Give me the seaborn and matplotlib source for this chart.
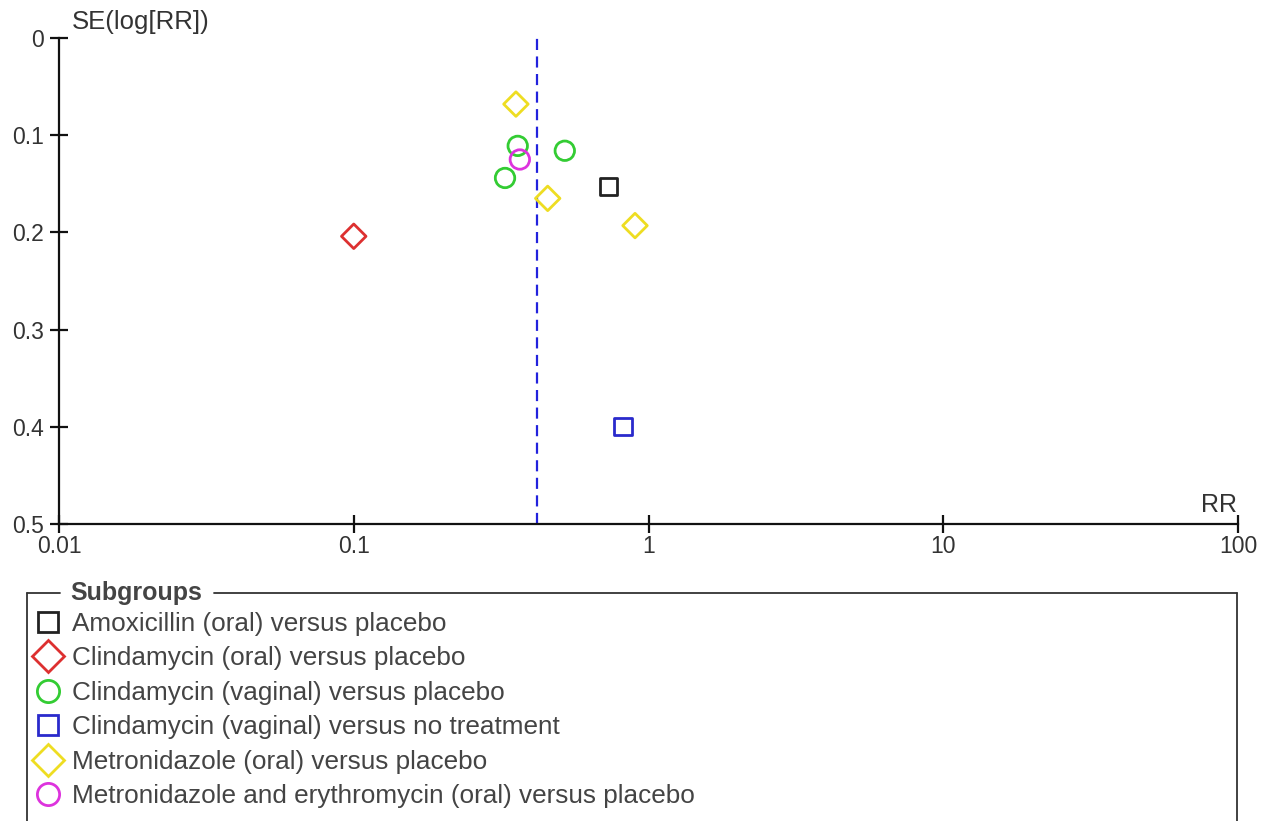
import matplotlib
matplotlib.use("Agg")
import matplotlib.pyplot as plt
from matplotlib.lines import Line2D
import seaborn as sns
import pandas as pd

# ---- data ----
groups = [
    "Amoxicillin (oral) versus placebo",
    "Clindamycin (oral) versus placebo",
    "Clindamycin (vaginal) versus placebo",
    "Clindamycin (vaginal) versus no treatment",
    "Metronidazole (oral) versus placebo",
    "Metronidazole and erythromycin (oral) versus placebo",
]
rr_amox = [0.73]
se_amox = [0.153]
rr_clin_oral = [0.10]
se_clin_oral = [0.204]
rr_clin_vag = [0.36, 0.52, 0.326]
se_clin_vag = [0.111, 0.116, 0.144]
rr_clin_vag_nt = [0.82]
se_clin_vag_nt = [0.400]
rr_metro = [0.355, 0.455, 0.90]
se_metro = [0.068, 0.165, 0.193]
rr_metro_ery = [0.366]
se_metro_ery = [0.125]
pooled_rr = 0.42

x_ticks = [0.01, 0.1, 1, 10, 100]
x_ticklabels = ["0.01", "0.1", "1", "10", "100"]
y_ticks = [0, 0.1, 0.2, 0.3, 0.4, 0.5]
y_ticklabels = ["0", "0.1", "0.2", "0.3", "0.4", "0.5"]

rr_all = [rr_amox, rr_clin_oral, rr_clin_vag, rr_clin_vag_nt, rr_metro, rr_metro_ery]
se_all = [se_amox, se_clin_oral, se_clin_vag, se_clin_vag_nt, se_metro, se_metro_ery]

colors = ["#222222", "#dd3030", "#33cc33", "#2a2acc", "#eedd22", "#dd33dd"]
markers = ["s", "D", "o", "s", "D", "o"]
msizes = [12.5, 12.5, 14, 12.5, 12.5, 14]
leg_msizes = [14.5, 16.5, 16, 14.5, 16.5, 16]

rows = []
for g, rs, ss in zip(groups, rr_all, se_all):
    for r, s in zip(rs, ss):
        rows.append({"group": g, "RR": r, "SE": s})
df = pd.DataFrame(rows)

sns.set_style("white")
plt.rcParams["font.family"] = ["Liberation Sans", "DejaVu Sans"]

fig = plt.figure(figsize=(12.71, 8.21), dpi=100)
W, H = 1271, 821
ax = fig.add_axes([59 / W, 1 - 524 / H, (1238 - 59) / W, (524 - 38) / H])

for g, c, m, ms in zip(groups, colors, markers, msizes):
    sub = df[df["group"] == g]
    sns.scatterplot(data=sub, x="RR", y="SE", ax=ax, marker=m, s=ms ** 2,
                    color=c, facecolor="none", edgecolor=c, linewidth=2,
                    legend=False, zorder=3)

ax.axvline(pooled_rr, color="#2222dd", linestyle=(0, (5, 2.9)), linewidth=1.6, zorder=2)

ax.set_xscale("log")
ax.set_xlim(0.01, 100)
ax.set_ylim(0.5, 0)
ax.set_xticks(x_ticks)
ax.set_xticklabels(x_ticklabels)
ax.set_yticks(y_ticks)
ax.set_yticklabels(y_ticklabels)
ax.minorticks_off()
ax.set_xlabel("")
ax.set_ylabel("")

for side in ["top", "right"]:
    ax.spines[side].set_visible(False)
for side in ["left", "bottom"]:
    ax.spines[side].set_linewidth(1.6)
    ax.spines[side].set_color("#111111")

ax.tick_params(axis="both", which="major", bottom=True, left=True, direction="inout",
               length=13, width=1.6, color="#111111", labelsize=16.5, labelcolor="#333333")
ax.tick_params(axis="x", pad=1.5)
ax.tick_params(axis="y", pad=4.5)

fig.text(72 / W, 1 - 22 / H, "SE(log[RR])", ha="left", va="center", fontsize=18.5, color="#333333")
fig.text(1237 / W, 1 - 505 / H, "RR", ha="right", va="center", fontsize=18, color="#333333")

# ---- legend ----
handles = [Line2D([], [], linestyle="none", marker=m, markersize=ms,
                  markerfacecolor="none", markeredgecolor=c, markeredgewidth=2)
           for c, m, ms in zip(colors, markers, leg_msizes)]
leg = fig.legend(handles, groups, loc="upper left",
                 bbox_to_anchor=(35 / W, 1 - 612 / H), frameon=False,
                 fontsize=18.8, handlelength=1.0, handletextpad=0.42,
                 labelspacing=0.40, borderaxespad=0, borderpad=0)
for t in leg.get_texts():
    t.set_color("#444444")

fig.text(70 / W, 1 - 593 / H, "Subgroups", ha="left", va="center", fontsize=18,
         fontweight="bold", color="#444444")
lc = "#333333"
fig.add_artist(Line2D([27 / W, 60 / W], [1 - 593 / H, 1 - 593 / H], color=lc, lw=1.3,
                      transform=fig.transFigure))
fig.add_artist(Line2D([214 / W, 1237 / W], [1 - 593 / H, 1 - 593 / H], color=lc, lw=1.3,
                      transform=fig.transFigure))
fig.add_artist(Line2D([27 / W, 27 / W], [1 - 593 / H, 0], color=lc, lw=1.3,
                      transform=fig.transFigure))
fig.add_artist(Line2D([1237 / W, 1237 / W], [1 - 593 / H, 0], color=lc, lw=1.3,
                      transform=fig.transFigure))

fig.savefig("out.png", dpi=100)
